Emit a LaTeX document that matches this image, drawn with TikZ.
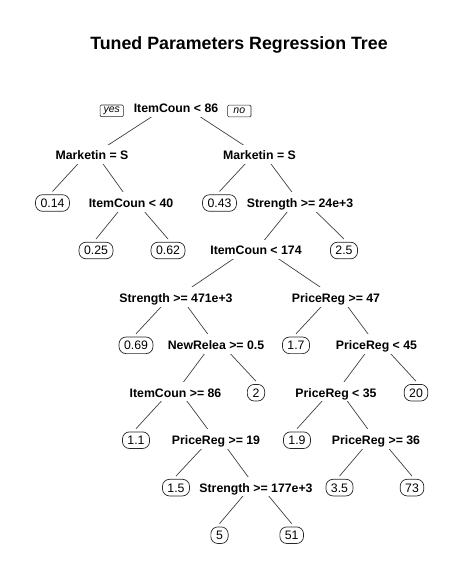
\documentclass[tikz,border=0pt]{standalone}
\usepackage{fontspec}
\setmainfont{Liberation Sans}
\usetikzlibrary{calc}
\pgfdeclarelayer{background}
\pgfsetlayers{background,main}
\tikzset{
  splitnode/.style={anchor=base, yshift=-4.4pt, fill=white, inner xsep=1pt, inner ysep=0pt,
    text height=15.4pt, text depth=4.3pt, font=\fontsize{12.3}{14}\selectfont\bfseries},
  leafnode/.style={draw=black!85, line width=0.7pt, rounded corners=7pt, fill=white,
    font=\fontsize{12.3}{14}\selectfont, text height=8.8pt, text depth=0pt,
    inner xsep=5pt, inner ysep=3.9pt, minimum width=17.3pt},
  yesno/.style={draw=black!85, line width=0.6pt, rounded corners=1.2pt,
    font=\fontsize{10.5}{12}\selectfont\itshape, minimum width=23.3pt, minimum height=11.7pt, inner sep=0pt},
  titlenode/.style={anchor=base, font=\fontsize{17.8}{20}\selectfont\bfseries, inner sep=0pt},
  treeline/.style={draw=black!75, line width=0.7pt},
}
\newcommand\edgeS[2]{\draw[treeline] ($(#1.base)+(0,-11.4)$) -- ($(#2.base)+(0,-4.4)$);}
\newcommand\edgeL[2]{\draw[treeline] ($(#1.base)+(0,-11.4)$) -- ($(#2.center)+(0,-11.5)$);}
\begin{document}
\begin{tikzpicture}[x=1pt,y=-1pt]
\useasboundingbox (0,0) rectangle (464,582);
\def\La{108}\def\Lb{155.5}\def\Lc{203}\def\Ld{250.5}\def\Le{297.8}
\def\Lf{345.3}\def\Lg{392.7}\def\Lh{440.2}\def\Li{487.6}\def\Lj{535.2}
\node[titlenode] (title) at (239,49.2) {Tuned Parameters Regression Tree};
% split nodes
\node[splitnode] (n1) at (176,\La) {ItemCoun < 86};
\node[splitnode] (n2) at (92,\Lb) {Marketin = S};
\node[splitnode] (n3) at (259.5,\Lb) {Marketin = S};
\node[splitnode] (n4) at (131,\Lc) {ItemCoun < 40};
\node[splitnode] (n5) at (300,\Lc) {Strength >= 24e+3};
\node[splitnode] (n6) at (256,\Ld) {ItemCoun < 174};
\node[splitnode] (n7) at (176,\Le) {Strength >= 471e+3};
\node[splitnode] (n8) at (336,\Le) {PriceReg >= 47};
\node[splitnode] (n9) at (216,\Lf) {NewRelea >= 0.5};
\node[splitnode] (n10) at (376.5,\Lf) {PriceReg < 45};
\node[splitnode] (n11) at (175.5,\Lg) {ItemCoun >= 86};
\node[splitnode] (n12) at (336,\Lg) {PriceReg < 35};
\node[splitnode] (n13) at (216,\Lh) {PriceReg >= 19};
\node[splitnode] (n14) at (376,\Lh) {PriceReg >= 36};
\node[splitnode] (n15) at (256,\Li) {Strength >= 177e+3};
% yes / no
\node[yesno] (yes) at (111.7,110.8) {yes};
\node[yesno] (no) at (239.3,111) {no};
% leaves
\node[leafnode] (a) at (52.5,\Lc) {0.14};
\node[leafnode] (b) at (219.5,\Lc) {0.43};
\node[leafnode] (c) at (96,\Ld) {0.25};
\node[leafnode] (d) at (168,\Ld) {0.62};
\node[leafnode] (e) at (344,\Ld) {2.5};
\node[leafnode] (f) at (136,\Lf) {0.69};
\node[leafnode] (g) at (296,\Lf) {1.7};
\node[leafnode] (h) at (256,\Lg) {2};
\node[leafnode] (i) at (416,\Lg) {20};
\node[leafnode] (j) at (136,\Lh) {1.1};
\node[leafnode] (k) at (297,\Lh) {1.9};
\node[leafnode] (l) at (176,\Li) {1.5};
\node[leafnode] (m) at (339.5,\Li) {3.5};
\node[leafnode] (o) at (412,\Li) {73};
\node[leafnode] (p) at (219.5,\Lj) {5};
\node[leafnode] (q) at (291.7,\Lj) {51};
\begin{pgfonlayer}{background}
\edgeS{n1}{n2} \edgeS{n1}{n3}
\edgeL{n2}{a} \edgeS{n2}{n4}
\edgeL{n4}{c} \edgeL{n4}{d}
\edgeL{n3}{b} \edgeS{n3}{n5}
\edgeS{n5}{n6} \edgeL{n5}{e}
\edgeS{n6}{n7} \edgeS{n6}{n8}
\edgeL{n7}{f} \edgeS{n7}{n9}
\edgeS{n9}{n11} \edgeL{n9}{h}
\edgeL{n11}{j} \edgeS{n11}{n13}
\edgeL{n13}{l} \edgeS{n13}{n15}
\edgeL{n15}{p} \edgeL{n15}{q}
\edgeL{n8}{g} \edgeS{n8}{n10}
\edgeS{n10}{n12} \edgeL{n10}{i}
\edgeL{n12}{k} \edgeS{n12}{n14}
\edgeL{n14}{m} \edgeL{n14}{o}
\end{pgfonlayer}
\end{tikzpicture}
\end{document}
